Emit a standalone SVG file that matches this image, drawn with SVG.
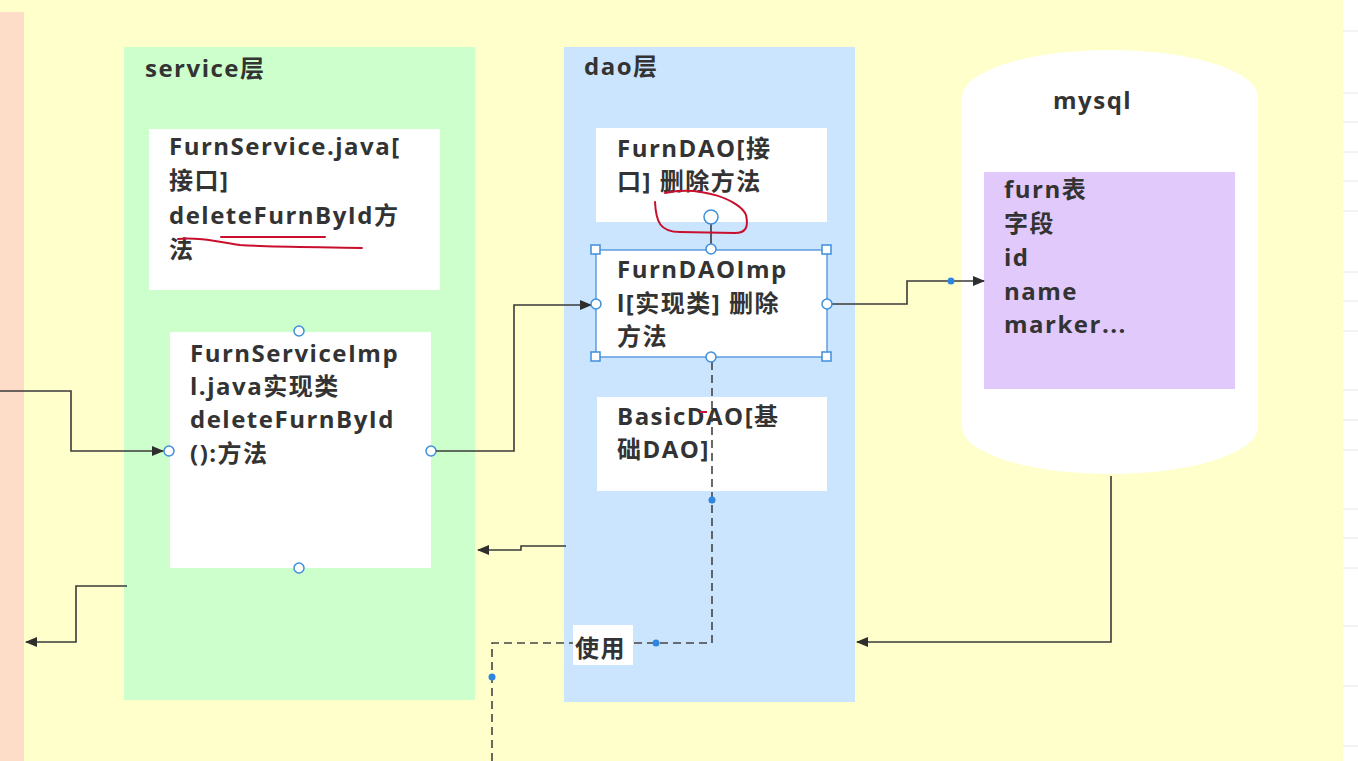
<svg xmlns="http://www.w3.org/2000/svg" width="1358" height="761" viewBox="0 0 1358 761">
<defs>
<style>
.t{font-family:"Open Sans","Noto Sans CJK SC",sans-serif;font-weight:bold;font-size:24px;letter-spacing:1.5px;fill:#333;}
.box{fill:#fff;}
.ln{fill:none;stroke:#3a3a3a;stroke-width:1.6;}
.dash{fill:none;stroke:#444;stroke-width:1.6;stroke-dasharray:8 5;}
.cp{fill:#fff;stroke:#3d8ede;stroke-width:1.5;}
.dot{fill:#2f86e0;}
.red{fill:none;stroke:#c8102e;stroke-width:2;stroke-linecap:round;}
.grid{stroke:#e6e6e6;stroke-width:1;}
</style>
<marker id="ah" viewBox="0 0 12 10" refX="11" refY="5" markerWidth="12" markerHeight="10" markerUnits="userSpaceOnUse" orient="auto">
<path d="M0,0 L12,5 L0,10 Z" fill="#2e2e2e"/>
</marker>
</defs>
<rect x="0" y="0" width="1358" height="761" fill="#fff"/>
<g id="grid-strip">
<line class="grid" x1="1343" y1="31" x2="1358" y2="31"/>
<line class="grid" x1="1343" y1="93" x2="1358" y2="93"/>
<line class="grid" x1="1343" y1="122" x2="1358" y2="122"/>
<line class="grid" x1="1343" y1="152" x2="1358" y2="152"/>
<line class="grid" x1="1343" y1="181" x2="1358" y2="181"/>
<line class="grid" x1="1343" y1="211" x2="1358" y2="211"/>
<line class="grid" x1="1343" y1="272" x2="1358" y2="272"/>
<line class="grid" x1="1343" y1="301" x2="1358" y2="301"/>
<line class="grid" x1="1343" y1="331" x2="1358" y2="331"/>
<line class="grid" x1="1343" y1="390" x2="1358" y2="390"/>
<line class="grid" x1="1343" y1="420" x2="1358" y2="420"/>
<line class="grid" x1="1343" y1="450" x2="1358" y2="450"/>
<line class="grid" x1="1343" y1="509" x2="1358" y2="509"/>
<line class="grid" x1="1343" y1="538" x2="1358" y2="538"/>
<line class="grid" x1="1343" y1="568" x2="1358" y2="568"/>
<line class="grid" x1="1343" y1="626" x2="1358" y2="626"/>
<line class="grid" x1="1343" y1="686" x2="1358" y2="686"/>
<line class="grid" x1="1343" y1="746" x2="1358" y2="746"/>
</g>
<rect x="0" y="0" width="1343" height="761" fill="#ffffcc"/>
<rect id="left-strip" x="0" y="12" width="24" height="749" fill="#fddcc8"/>

<g id="service-layer">
<rect x="124" y="47" width="351" height="653" fill="#ccffcc"/>
<text class="t" x="145" y="77">service层</text>
</g>

<g id="furnservice">
<rect class="box" x="149" y="129" width="291" height="161"/>
<text class="t" x="169" y="155">FurnService.java[</text>
<text class="t" x="169" y="189">接口]</text>
<text class="t" x="169" y="224">deleteFurnById方</text>
<text class="t" x="169" y="258">法</text>
<path class="red" d="M178,239 C195,237 215,241 240,245 C270,247 320,247 362,248"/>
<path class="red" d="M221,237 L325,237"/>
</g>

<g id="furnserviceimpl">
<rect class="box" x="170" y="332" width="261" height="236"/>
<text class="t" x="190" y="362">FurnServiceImp</text>
<text class="t" x="190" y="395">l.java实现类</text>
<text class="t" x="190" y="428">deleteFurnById</text>
<text class="t" x="190" y="462">():方法</text>
<circle class="cp" cx="299" cy="331" r="5"/>
<circle class="cp" cx="169" cy="451" r="5"/>
<circle class="cp" cx="431" cy="451" r="5"/>
<circle class="cp" cx="299" cy="568" r="5"/>
</g>

<g id="dao-layer">
<rect x="564" y="47" width="291" height="655" fill="#cce5ff"/>
<text class="t" x="584" y="75">dao层</text>
</g>

<g id="furndao">
<rect class="box" x="596" y="128" width="231" height="94"/>
<text class="t" x="617" y="157">FurnDAO[接</text>
<text class="t" x="617" y="190">口] 删除方法</text>
</g>

<g id="furndaoimpl">
<rect class="box" x="596" y="250" width="231" height="107" stroke="#4a90d9" stroke-width="1.3"/>
<text class="t" x="617" y="278">FurnDAOImp</text>
<text class="t" x="617" y="312">l[实现类] 删除</text>
<text class="t" x="617" y="345">方法</text>
<g fill="#fff" stroke="#3d8ede" stroke-width="1.5">
<rect x="591" y="245" width="9" height="9"/>
<rect x="822" y="245" width="9" height="9"/>
<rect x="591" y="352" width="9" height="9"/>
<rect x="822" y="352" width="9" height="9"/>
</g>
</g>

<g id="basicdao">
<rect class="box" x="597" y="397" width="230" height="94"/>
<text class="t" x="617" y="425">BasicDAO[基</text>
<text class="t" x="617" y="458">础DAO]</text>
</g>

<g id="mysql">
<path d="M962,97 A148,47 0 0 1 1258,97 L1258,427 A148,47 0 0 1 962,427 Z" fill="#fff"/>
<text class="t" x="1053" y="109">mysql</text>
</g>

<g id="furn-table">
<rect x="984" y="172" width="251" height="217" fill="#e1c9fb"/>
<text class="t" x="1004" y="198">furn表</text>
<text class="t" x="1004" y="232">字段</text>
<text class="t" x="1004" y="266">id</text>
<text class="t" x="1004" y="300">name</text>
<text class="t" x="1004" y="333">marker...</text>
</g>

<g id="connectors">
<path class="ln" d="M0,391 L71,391 L71,451 L163,451" marker-end="url(#ah)"/>
<path class="ln" d="M127,586 L76,586 L76,642 L26,642" marker-end="url(#ah)"/>
<path class="ln" d="M436,451 L514,451 L514,305 L591,305" marker-end="url(#ah)"/>
<path class="ln" d="M566,546 L521,546 L521,550 L478,550" marker-end="url(#ah)"/>
<path class="ln" d="M832,304 L907,304 L907,281 L984,281" marker-end="url(#ah)"/>
<path class="ln" d="M1111,476 L1111,642 L857,642" marker-end="url(#ah)"/>
<line class="ln" x1="711" y1="223" x2="711" y2="244"/>
<path class="dash" d="M712,362 L712,643 L492,643 L492,761"/>
<rect x="573" y="625" width="60" height="40" fill="#fff"/>
<text class="t" x="575" y="657">使用</text>
<circle class="dot" cx="951" cy="281" r="3.5"/>
<circle class="dot" cx="712" cy="500" r="3.5"/>
<circle class="dot" cx="656" cy="643" r="3.5"/>
<circle class="dot" cx="492" cy="677" r="3.5"/>
</g>

<g id="overlay">
<circle class="cp" cx="711" cy="217" r="7"/>
<circle class="cp" cx="711" cy="249" r="5"/>
<circle class="cp" cx="596" cy="304" r="5"/>
<circle class="cp" cx="827" cy="304" r="5"/>
<circle class="cp" cx="711" cy="357" r="5"/>
<path class="red" d="M665,193 C700,185 740,200 746,215 C749,228 745,233 735,233 L680,232 C660,232 656,222 655,202"/>
<path d="M700,412 L707,412" stroke="#d0103a" stroke-width="2"/>
</g>
</svg>
